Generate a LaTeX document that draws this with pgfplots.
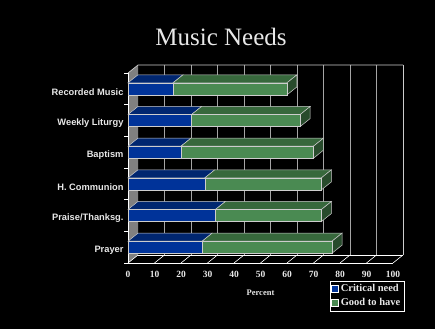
\documentclass[border=0pt]{standalone}
\usepackage{pgfplots}
\pgfplotsset{compat=1.18}
\usepackage{pgfplotstable}
\usepackage{fontspec}
\setmainfont{Liberation Serif}
\newfontfamily\sansf{Liberation Sans}

\definecolor{bluefront}{RGB}{0,51,153}
\definecolor{bluetop}{RGB}{0,38,112}
\definecolor{greenfront}{RGB}{74,138,82}
\definecolor{greentop}{RGB}{55,104,60}
\definecolor{greenside}{RGB}{40,75,44}
\definecolor{edgec}{RGB}{205,205,205}
\definecolor{txt}{RGB}{232,232,232}
\definecolor{wall}{RGB}{128,128,128}
\definecolor{gridc}{RGB}{165,165,165}

% y: 0 = Prayer (bottom) ... 5 = Recorded Music (top)
\pgfplotstableread{
y crit good
0 28 49
1 33 40
2 29 44
3 20 50
4 24 41
5 17 43
}\datatable

\def\dx{3.77}
\def\dy{0.253}
\def\hw{0.19}

\pgfplotsset{
  frame/.style={at={(128pt,66pt)}, anchor=south west, scale only axis,
    width=265pt, height=190pt, xmin=0, xmax=100, ymin=-0.5, ymax=5.5, clip=false},
}

\begin{document}
\begin{tikzpicture}[x=1pt,y=1pt]
\fill[black] (0,0) rectangle (435,329);
\node[text=txt, font=\fontsize{25}{27}\selectfont] at (221,292) {Music Needs};

% left wall
\fill[wall] (128,66) -- (138,74) -- (138,264) -- (128,256) -- cycle;
% back wall grid
\foreach \k in {1,...,9} {
  \draw[gridc, line width=0.6pt] ({138+26.5*\k},74) -- ({138+26.5*\k},264);
}
\draw[edgec, line width=0.7pt] (403,74) -- (403,264);
\draw[edgec, line width=0.7pt] (128,256) -- (138,264) -- (403,264);
% floor
\draw[white, line width=0.7pt] (128,66) -- (393,66);
\draw[white, line width=0.7pt] (138,74) -- (403,74);
\foreach \k in {0,...,10} {
  \draw[white, line width=0.6pt] ({128+26.5*\k},66) -- ({138+26.5*\k},74);
}
% left axis and ticks
\draw[white, line width=0.7pt] (128,66) -- (128,256);
\foreach \j in {0,...,6} {
  \draw[white, line width=0.7pt] (124,{66+31.667*\j}) -- (128,{66+31.667*\j});
}

% top and side faces
\begin{axis}[frame, hide axis]
\pgfplotsinvokeforeach{0,...,5}{
  \pgfplotstablegetelem{#1}{crit}\of\datatable
  \pgfmathsetmacro\c{\pgfplotsretval}
  \pgfplotstablegetelem{#1}{good}\of\datatable
  \pgfmathsetmacro\t{\c+\pgfplotsretval}
  \pgfmathsetmacro\ya{#1-\hw}
  \pgfmathsetmacro\yb{#1+\hw}
  \pgfmathsetmacro\yc{#1+\hw+\dy}
  \pgfmathsetmacro\yd{#1-\hw+\dy}
  \pgfmathsetmacro\cd{\c+\dx}
  \pgfmathsetmacro\td{\t+\dx}
  \addplot[fill=bluetop, draw=edgec, line width=0.5pt] coordinates {(0,\yb) (\c,\yb) (\cd,\yc) (\dx,\yc)} -- cycle;
  \addplot[fill=greentop, draw=edgec, line width=0.5pt] coordinates {(\c,\yb) (\t,\yb) (\td,\yc) (\cd,\yc)} -- cycle;
  \addplot[fill=greenside, draw=edgec, line width=0.5pt] coordinates {(\t,\ya) (\t,\yb) (\td,\yc) (\td,\yd)} -- cycle;
}
\end{axis}

% front faces
\begin{axis}[frame, xbar stacked, bar width=12pt,
  axis line style={draw=none}, major tick length=0pt,
  xtick={0,10,...,100}, ytick={0,...,5},
  yticklabels={Prayer,Praise/Thanksg.,H. Communion,Baptism,Weekly Liturgy,Recorded Music},
  /pgf/number format/assume math mode=true,
  xticklabel style={font=\fontsize{9.5}{10}\selectfont\bfseries, text=txt, yshift=-5pt},
  yticklabel style={font=\sansf\fontsize{9.3}{10}\selectfont\bfseries, text=txt, yshift=-3pt, xshift=-1pt},
  legend style={at={(1,0)}, anchor=north east, xshift=11pt, yshift=-18pt,
    fill=black, draw=white, text=txt, font=\fontsize{10.5}{12}\selectfont\bfseries,
    inner sep=1.5pt, row sep=1pt, cells={anchor=west}},
  legend image code/.code={\draw[#1, draw=white] (0pt,-3.5pt) rectangle (7pt,3.5pt);},
]
\addplot[fill=bluefront, draw=edgec, line width=0.5pt] table[x=crit, y=y] {\datatable};
\addlegendentry{Critical need}
\addplot[fill=greenfront, draw=edgec, line width=0.5pt] table[x=good, y=y] {\datatable};
\addlegendentry{Good to have}
\node[text=txt, font=\fontsize{8.5}{9}\selectfont\bfseries] at (rel axis cs:0.5,0) [yshift=-30pt] {Percent};
\end{axis}
\pgfresetboundingbox
\useasboundingbox (0,0) rectangle (435,329);
\end{tikzpicture}
\end{document}
